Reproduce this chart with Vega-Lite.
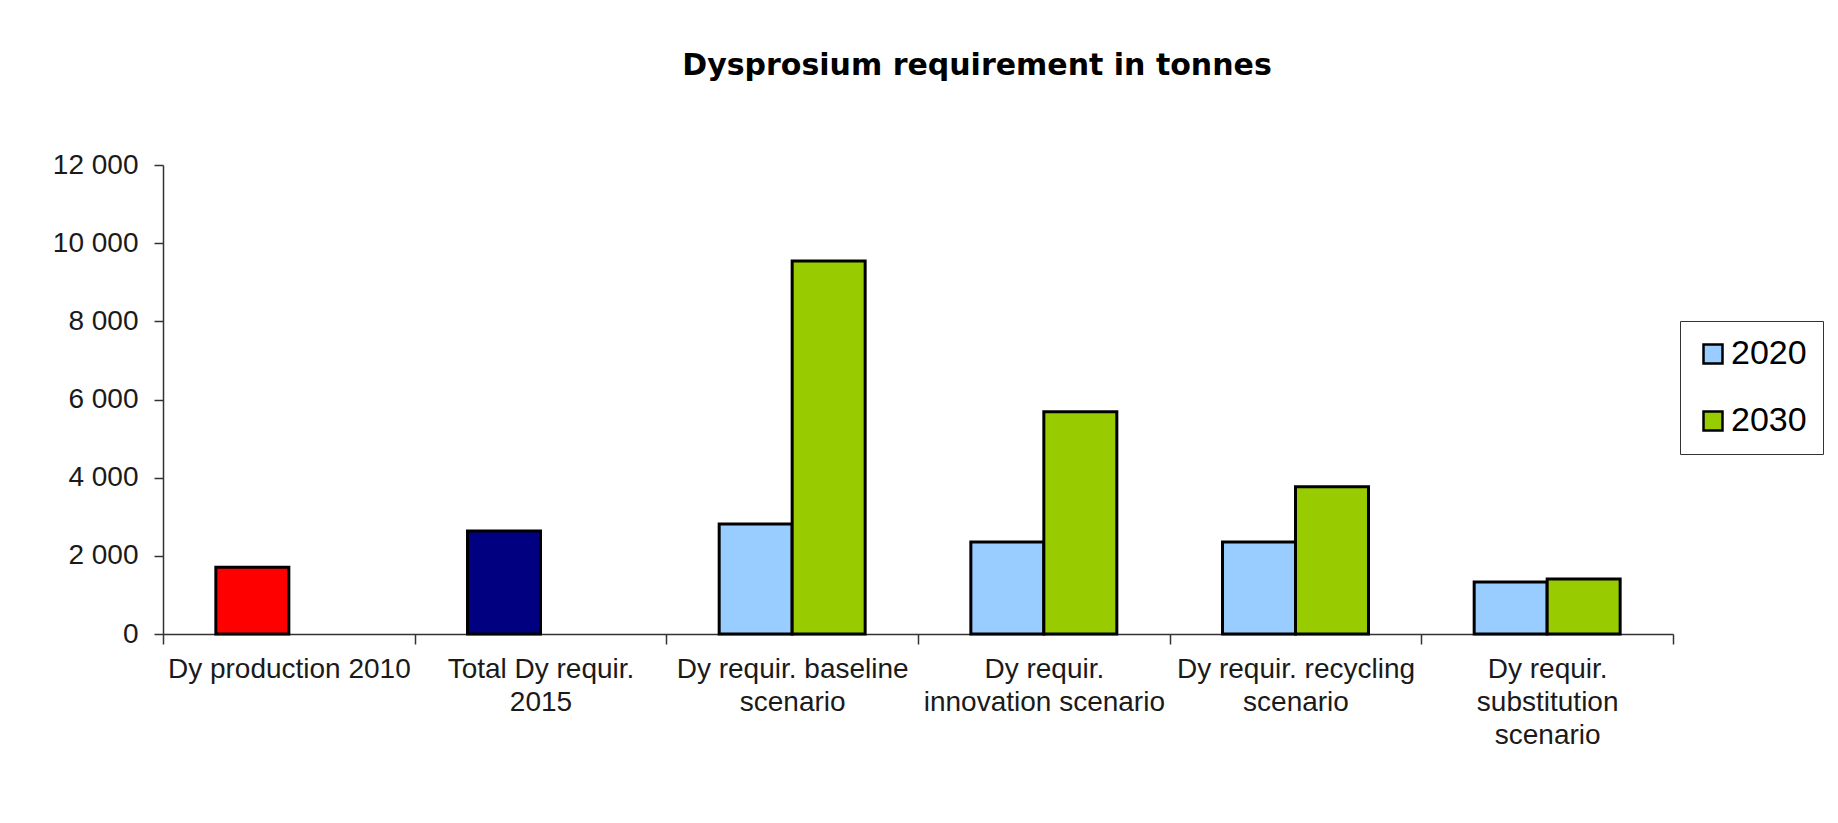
{
  "$schema": "https://vega.github.io/schema/vega-lite/v6.json",
  "autosize": {"type": "none"},
  "width": 1510,
  "height": 469,
  "padding": {"left": 163, "top": 165, "right": 165, "bottom": 189},
  "background": "white",
  "title": {
    "text": "Dysprosium requirement in tonnes",
    "font": "DejaVu Sans",
    "fontWeight": "bold",
    "fontSize": 30,
    "color": "#000000",
    "anchor": "middle",
    "frame": "group",
    "dx": 59,
    "offset": 46,
    "baseline": "alphabetic"
  },
  "data": {
    "values": [
      {"category": "Dy production 2010", "slot": "A", "series": "Dy production 2010", "value": 1710},
      {"category": "Total Dy requir. 2015", "slot": "A", "series": "Total Dy requir. 2015", "value": 2635},
      {"category": "Dy requir. baseline scenario", "slot": "A", "series": "2020", "value": 2815},
      {"category": "Dy requir. baseline scenario", "slot": "B", "series": "2030", "value": 9545},
      {"category": "Dy requir. innovation scenario", "slot": "A", "series": "2020", "value": 2355},
      {"category": "Dy requir. innovation scenario", "slot": "B", "series": "2030", "value": 5685},
      {"category": "Dy requir. recycling scenario", "slot": "A", "series": "2020", "value": 2355},
      {"category": "Dy requir. recycling scenario", "slot": "B", "series": "2030", "value": 3765},
      {"category": "Dy requir. substitution scenario", "slot": "A", "series": "2020", "value": 1330},
      {"category": "Dy requir. substitution scenario", "slot": "B", "series": "2030", "value": 1405}
    ]
  },
  "mark": {"type": "bar", "stroke": "#000000", "strokeWidth": 3, "opacity": 1},
  "encoding": {
    "x": {
      "field": "category",
      "type": "nominal",
      "sort": null,
      "scale": {"paddingInner": 0, "paddingOuter": 0},
      "axis": {
        "title": null,
        "labelAngle": 0,
        "tickBand": "extent",
        "tickSize": 10,
        "tickColor": "#333333",
        "tickWidth": 1.5,
        "domainColor": "#333333",
        "domainWidth": 1.5,
        "labelFont": "Liberation Sans",
        "labelFontSize": 28,
        "labelColor": "#1a1a1a",
        "labelLineHeight": 33,
        "labelPadding": 11,
        "labelLimit": 400,
        "labelBaseline": "top",
        "labelExpr": "datum.value == 'Total Dy requir. 2015' ? ['Total Dy requir.', '2015'] : datum.value == 'Dy requir. baseline scenario' ? ['Dy requir. baseline', 'scenario'] : datum.value == 'Dy requir. innovation scenario' ? ['Dy requir.', 'innovation scenario'] : datum.value == 'Dy requir. recycling scenario' ? ['Dy requir. recycling', 'scenario'] : datum.value == 'Dy requir. substitution scenario' ? ['Dy requir.', 'substitution', 'scenario'] : datum.label"
      }
    },
    "xOffset": {
      "field": "slot",
      "type": "nominal",
      "scale": {"domain": ["A", "B"], "paddingInner": 0, "paddingOuter": 0.724}
    },
    "y": {
      "field": "value",
      "type": "quantitative",
      "scale": {"domain": [0, 12000], "nice": false},
      "axis": {
        "title": null,
        "values": [0, 2000, 4000, 6000, 8000, 10000, 12000],
        "grid": false,
        "tickSize": 9,
        "tickColor": "#333333",
        "tickWidth": 1.5,
        "domainColor": "#333333",
        "domainWidth": 1.5,
        "labelFont": "Liberation Sans",
        "labelFontSize": 28,
        "labelColor": "#1a1a1a",
        "labelPadding": 16,
        "labelExpr": "replace(format(datum.value, ','), ',', ' ')"
      }
    },
    "color": {
      "field": "series",
      "type": "nominal",
      "scale": {
        "domain": ["2020", "2030", "Dy production 2010", "Total Dy requir. 2015"],
        "range": ["#99CCFF", "#99CC00", "#FF0000", "#000080"]
      },
      "legend": {
        "title": null,
        "values": ["2020", "2030"],
        "orient": "none",
        "legendX": 1517,
        "legendY": 156,
        "strokeColor": "#333333",
        "padding": 16,
        "symbolType": "square",
        "symbolSize": 361,
        "symbolStrokeColor": "#000000",
        "symbolStrokeWidth": 2.5,
        "symbolOpacity": 1,
        "labelFont": "Liberation Sans",
        "labelFontSize": 34,
        "labelColor": "#000000",
        "labelOffset": 1,
        "rowPadding": 33
      }
    }
  },
  "config": {
    "view": {"stroke": null}
  }
}
